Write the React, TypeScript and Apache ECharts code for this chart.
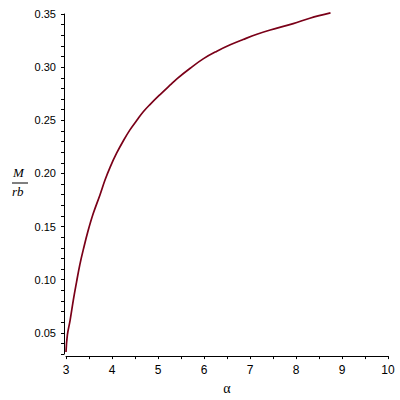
import React, { useEffect, useRef } from "react";
import * as echarts from "echarts";

const alphaValues = [3.0, 3.03, 3.09, 3.16, 3.23, 3.3, 3.38, 3.48, 3.59, 3.74, 3.85, 3.96, 4.1, 4.25, 4.39, 4.54, 4.68, 4.83, 5.04, 5.26, 5.41, 5.7, 5.99, 6.28, 6.57, 6.85, 7.15, 7.44, 7.94, 8.3, 8.75];
const ratioValues = [0.032, 0.048, 0.062, 0.081, 0.098, 0.114, 0.129, 0.146, 0.162, 0.18, 0.194, 0.206, 0.219, 0.231, 0.241, 0.25, 0.258, 0.265, 0.274, 0.283, 0.289, 0.299, 0.308, 0.315, 0.321, 0.326, 0.331, 0.335, 0.341, 0.346, 0.351];
const xTicks = [3, 4, 5, 6, 7, 8, 9, 10];
const yTickLabels = ["0.05", "0.10", "0.15", "0.20", "0.25", "0.30", "0.35"];

export default function App() {
  const ref = useRef<HTMLDivElement>(null);
  useEffect(() => {
    if (!ref.current) return;
    const chart = echarts.init(ref.current, null, { renderer: "svg" });
    const data = alphaValues.map((a, i) => [a, ratioValues[i]]);
    chart.setOption({
      animation: false,
      backgroundColor: "#ffffff",
      grid: { left: 66, right: 12, top: 14, bottom: 44 },
      xAxis: {
        type: "value",
        min: xTicks[0],
        max: xTicks[xTicks.length - 1],
        interval: 1,
        offset: 2,
        name: "α",
        nameLocation: "middle",
        nameGap: 22,
        nameTextStyle: { fontFamily: "Liberation Serif", fontSize: 14, color: "#000" },
        axisLine: { onZero: false, lineStyle: { color: "#000", width: 1 } },
        axisTick: { show: true, length: 3, inside: false, lineStyle: { color: "#000" } },
        minorTick: { show: true, splitNumber: 2, length: 3, lineStyle: { color: "#000" } },
        axisLabel: { fontFamily: "Liberation Sans", fontSize: 12, color: "#000", margin: 8 },
        splitLine: { show: false },
      },
      yAxis: {
        type: "value",
        min: 0.03,
        max: 0.35,
        interval: 0.01,
        offset: 2,
        axisLine: { onZero: false, lineStyle: { color: "#000", width: 1 } },
        axisTick: { show: true, length: 3, inside: false, lineStyle: { color: "#000" } },
        axisLabel: {
          fontFamily: "Liberation Sans",
          fontSize: 11,
          color: "#000",
          margin: 8,
          formatter: (v: number) => {
            const s = (Math.round(v * 100) / 100).toFixed(2);
            return yTickLabels.includes(s) ? s : "";
          },
        },
        splitLine: { show: false },
      },
      graphic: [
        { type: "text", left: 13, top: 166, style: { text: "M", font: "italic 13px 'Liberation Serif'", fill: "#000" } },
        { type: "line", shape: { x1: 12, y1: 183, x2: 28, y2: 183 }, style: { stroke: "#000", lineWidth: 1 } },
        { type: "text", left: 12, top: 185, style: { text: "rb", font: "italic 13px 'Liberation Serif'", fill: "#000" } },
      ],
      series: [
        {
          type: "line",
          data,
          smooth: 0.4,
          showSymbol: false,
          clip: false,
          lineStyle: { color: "#7a0018", width: 1.7 },
        },
      ],
    });
    return () => chart.dispose();
  }, []);
  return <div ref={ref} style={{ position: "fixed", left: 0, top: 0, width: 400, height: 400 }} />;
}
